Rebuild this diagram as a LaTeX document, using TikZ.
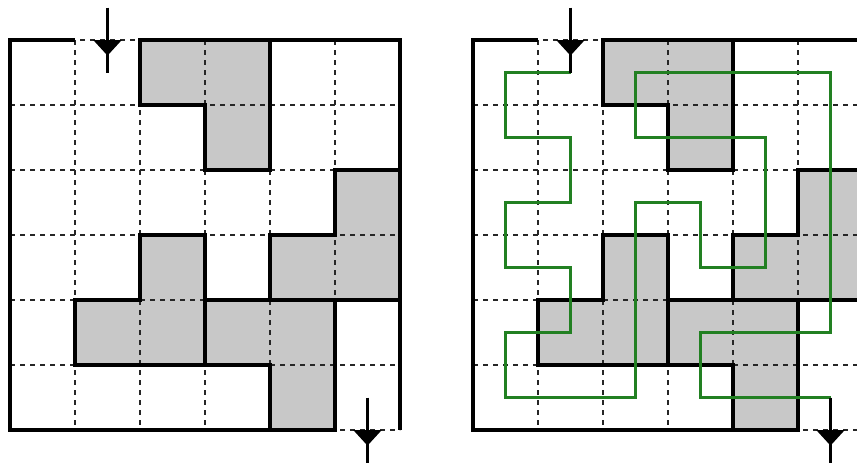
\documentclass[tikz,border=0pt]{standalone}
\definecolor{blockgray}{RGB}{200,200,200}
\definecolor{routegreen}{RGB}{34,128,34}
\tikzset{
  wall/.style={line width=3.3pt, line join=miter},
  gridline/.style={line width=1.2pt, dash pattern=on 5pt off 5pt, black!85},
  block/.style={fill=blockgray},
  route/.style={line width=3.2pt, draw=routegreen, line join=miter},
  shaft/.style={line width=3.3pt},
  tip/.style={fill=black}
}
\newcommand{\mazebody}{%
  % grey blocks
  \fill[block] (2,0) -- (4,0) -- (4,2) -- (3,2) -- (3,1) -- (2,1) -- cycle;
  \fill[block] (5,2) -- (6,2) -- (6,4) -- (4,4) -- (4,3) -- (5,3) -- cycle;
  \fill[block] (2,3) -- (3,3) -- (3,5) -- (1,5) -- (1,4) -- (2,4) -- cycle;
  \fill[block] (3,4) -- (5,4) -- (5,6) -- (4,6) -- (4,5) -- (3,5) -- cycle;
  % dashed grid
  \foreach \i in {0,...,6} {
    \draw[gridline] (\i,0) -- (\i,6);
    \draw[gridline] (0,\i) -- (6,\i);
  }
  % outer walls
  \draw[wall] (1,0) -- (0,0) -- (0,6) -- (5,6);
  \draw[wall] (2,0) -- (6,0) -- (6,6);
  % block outlines
  \draw[wall] (2,0) -- (4,0) -- (4,2) -- (3,2) -- (3,1) -- (2,1) -- cycle;
  \draw[wall] (5,2) -- (6,2) -- (6,4) -- (4,4) -- (4,3) -- (5,3) -- cycle;
  \draw[wall] (2,3) -- (3,3) -- (3,5) -- (1,5) -- (1,4) -- (2,4) -- cycle;
  \draw[wall] (3,4) -- (5,4) -- (5,6) -- (4,6) -- (4,5) -- (3,5) -- cycle;
}
\newcommand{\mazearrows}[1]{%
  \coordinate (#1intop) at (1.5,-0.5);
  \coordinate (#1inbot) at (1.5,0.5);
  \coordinate (#1outtop) at (5.5,5.5);
  \coordinate (#1outbot) at (5.5,6.5);
  \draw[shaft] (#1intop) -- (#1inbot);
  \fill[tip] (1.28,0) -- (1.72,0) -- (1.5,0.24) -- cycle;
  \draw[shaft] (#1outtop) -- (#1outbot);
  \fill[tip] (5.28,6) -- (5.72,6) -- (5.5,6.24) -- cycle;
}
\begin{document}
\begin{tikzpicture}[x=1pt,y=-1pt]
  \useasboundingbox (0,0) rectangle (857,464);
  \clip (0,0) rectangle (857,464);
  % left maze
  \begin{scope}[shift={(10,40)}, x=65pt, y=-65pt]
    \mazebody
    \mazearrows{L}
  \end{scope}
  % right maze with route
  \begin{scope}[shift={(473,40)}, x=65pt, y=-65pt]
    \mazebody
    \draw[route] (1.5,.5) -- (.5,.5) -- (.5,1.5) -- (1.5,1.5) -- (1.5,2.5)
      -- (.5,2.5) -- (.5,3.5) -- (1.5,3.5) -- (1.5,4.5) -- (.5,4.5)
      -- (.5,5.5) -- (2.5,5.5) -- (2.5,2.5) -- (3.5,2.5) -- (3.5,3.5)
      -- (4.5,3.5) -- (4.5,1.5) -- (2.5,1.5) -- (2.5,.5) -- (5.5,.5)
      -- (5.5,4.5) -- (3.5,4.5) -- (3.5,5.5) -- (5.5,5.5);
    \mazearrows{R}
  \end{scope}
\end{tikzpicture}
\end{document}
